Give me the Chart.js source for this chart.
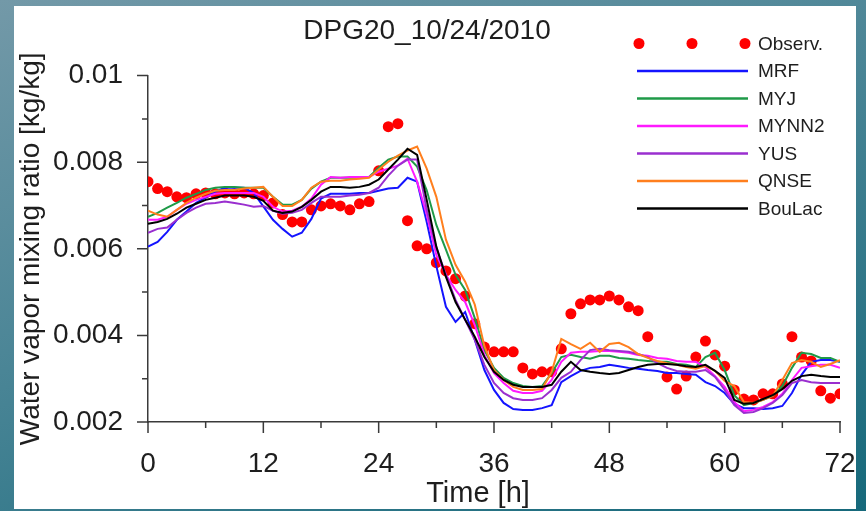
<!DOCTYPE html>
<html>
<head>
<meta charset="utf-8">
<script src="https://cdn.jsdelivr.net/npm/chart.js@4.4.1/dist/chart.umd.min.js"></script>
<style>
html, body { margin: 0; padding: 0; }
body {
    width: 866px; height: 511px; overflow: hidden; position: relative;
    background: linear-gradient(160deg, #7399a8 0%, #4a8596 45%, #16697b 100%);
}
#panel { position: absolute; left: 14px; top: 6px; width: 842px; height: 503px; background: #fff; }
canvas { display: block; }
</style>
</head>
<body>
<div id="panel"><canvas id="chart" width="842" height="503"></canvas></div>
<script>
// hours 0..72
const hours = Array.from({ length: 73 }, (_, i) => i);

const observ = [0.00755, 0.00739, 0.00732, 0.00720, 0.00718, 0.00727, 0.00729, 0.00727, 0.00729, 0.00727,
    0.00729, 0.00727, 0.00723, 0.00706, 0.00679, 0.00662, 0.00662, 0.00690, 0.00699, 0.00704,
    0.00699, 0.00690, 0.00704, 0.00709, 0.00780, 0.00882, 0.00889, 0.00665, 0.00607, 0.00600,
    0.00568, 0.00549, 0.00531, 0.00491, 0.00427, 0.00373, 0.00362, 0.00362, 0.00362, 0.00325,
    0.00311, 0.00316, 0.00316, 0.00369, 0.00450, 0.00473, 0.00482, 0.00482, 0.00491, 0.00482,
    0.00466, 0.00457, 0.00397, null, 0.00304, 0.00276, 0.00306, 0.00350, 0.00387, 0.00355,
    0.00329, 0.00274, 0.00253, 0.00251, 0.00265, 0.00265, 0.00288, 0.00397, 0.00350, 0.00341,
    0.00272, 0.00255, 0.00265];

const mrf = [0.00605, 0.00616, 0.00639, 0.00667, 0.00686, 0.00706, 0.00718, 0.00732, 0.00741, 0.00741,
    0.00741, 0.00729, 0.00698, 0.00667, 0.00646, 0.00628, 0.00637, 0.00669, 0.00716, 0.00727,
    0.00727, 0.00727, 0.00729, 0.00729, 0.00734, 0.00739, 0.00741, 0.00764, 0.00755, 0.00662,
    0.00560, 0.00466, 0.00431, 0.00454, 0.00390, 0.00320, 0.00274, 0.00244, 0.00230, 0.00228,
    0.00228, 0.00232, 0.00239, 0.00292, 0.00306, 0.00318, 0.00325, 0.00327, 0.00332, 0.00329,
    0.00325, 0.00323, 0.00320, 0.00318, 0.00313, 0.00313, 0.00311, 0.00309, 0.00292, 0.00283,
    0.00267, 0.00242, 0.00232, 0.00232, 0.00230, 0.00232, 0.00237, 0.00267, 0.00309, 0.00339,
    0.00343, 0.00343, 0.00339];

const myj = [0.00674, 0.00683, 0.00695, 0.00706, 0.00718, 0.00727, 0.00736, 0.00741, 0.00743, 0.00743,
    0.00741, 0.00741, 0.00741, 0.00720, 0.00702, 0.00702, 0.00713, 0.00739, 0.00755, 0.00764,
    0.00764, 0.00764, 0.00764, 0.00766, 0.00787, 0.00806, 0.00813, 0.00813, 0.00790, 0.00735,
    0.00655, 0.00598, 0.00540, 0.00505, 0.00440, 0.00366, 0.00325, 0.00302, 0.00290, 0.00283,
    0.00281, 0.00283, 0.00313, 0.00350, 0.00355, 0.00350, 0.00346, 0.00353, 0.00353, 0.00348,
    0.00346, 0.00343, 0.00341, 0.00339, 0.00339, 0.00334, 0.00332, 0.00327, 0.00350, 0.00360,
    0.00320, 0.00262, 0.00239, 0.00244, 0.00251, 0.00260, 0.00283, 0.00325, 0.00360, 0.00357,
    0.00348, 0.00348, 0.00339];

const mynn2 = [0.00667, 0.00667, 0.00674, 0.00690, 0.00704, 0.00713, 0.00720, 0.00727, 0.00729, 0.00729,
    0.00729, 0.00729, 0.00720, 0.00697, 0.00686, 0.00688, 0.00697, 0.00716, 0.00748, 0.00766,
    0.00764, 0.00766, 0.00766, 0.00766, 0.00778, 0.00785, 0.00792, 0.00808, 0.00755, 0.00679,
    0.00586, 0.00540, 0.00505, 0.00477, 0.00424, 0.00355, 0.00313, 0.00290, 0.00272, 0.00267,
    0.00267, 0.00272, 0.00297, 0.00339, 0.00360, 0.00362, 0.00362, 0.00364, 0.00364, 0.00362,
    0.00360, 0.00355, 0.00353, 0.00348, 0.00346, 0.00341, 0.00339, 0.00339, 0.00327, 0.00306,
    0.00281, 0.00246, 0.00225, 0.00228, 0.00235, 0.00246, 0.00265, 0.00297, 0.00325, 0.00329,
    0.00332, 0.00332, 0.00325];

const yus = [0.00637, 0.00646, 0.00649, 0.00667, 0.00683, 0.00695, 0.00704, 0.00706, 0.00709, 0.00706,
    0.00702, 0.00697, 0.00699, 0.00688, 0.00681, 0.00683, 0.00690, 0.00706, 0.00720, 0.00720,
    0.00720, 0.00723, 0.00725, 0.00729, 0.00741, 0.00769, 0.00792, 0.00806, 0.00806, 0.00690,
    0.00602, 0.00540, 0.00482, 0.00436, 0.00390, 0.00332, 0.00290, 0.00267, 0.00255, 0.00251,
    0.00251, 0.00255, 0.00274, 0.00302, 0.00316, 0.00343, 0.00366, 0.00369, 0.00366, 0.00364,
    0.00362, 0.00357, 0.00350, 0.00336, 0.00325, 0.00318, 0.00316, 0.00316, 0.00320, 0.00304,
    0.00274, 0.00239, 0.00221, 0.00223, 0.00232, 0.00244, 0.00262, 0.00290, 0.00297, 0.00292,
    0.00290, 0.00290, 0.00290];

const qnse = [0.00688, 0.00679, 0.00674, 0.00690, 0.00706, 0.00718, 0.00727, 0.00734, 0.00736, 0.00736,
    0.00739, 0.00741, 0.00743, 0.00720, 0.00699, 0.00699, 0.00713, 0.00741, 0.00755, 0.00757,
    0.00757, 0.00760, 0.00762, 0.00764, 0.00783, 0.00801, 0.00815, 0.00827, 0.00836, 0.00785,
    0.00720, 0.00621, 0.00563, 0.00524, 0.00471, 0.00375, 0.00320, 0.00297, 0.00281, 0.00274,
    0.00274, 0.00276, 0.00316, 0.00392, 0.00380, 0.00369, 0.00383, 0.00362, 0.00380, 0.00383,
    0.00373, 0.00357, 0.00348, 0.00341, 0.00336, 0.00332, 0.00327, 0.00323, 0.00329, 0.00318,
    0.00295, 0.00283, 0.00246, 0.00244, 0.00251, 0.00260, 0.00297, 0.00336, 0.00343, 0.00339,
    0.00327, 0.00334, 0.00343];

const boulac = [0.00658, 0.00662, 0.00669, 0.00681, 0.00695, 0.00704, 0.00713, 0.00718, 0.00723, 0.00723,
    0.00723, 0.00720, 0.00711, 0.00688, 0.00683, 0.00686, 0.00697, 0.00713, 0.00732, 0.00743,
    0.00743, 0.00741, 0.00743, 0.00748, 0.00760, 0.00783, 0.00806, 0.00831, 0.00817, 0.00713,
    0.00605, 0.00535, 0.00477, 0.00436, 0.00397, 0.00350, 0.00316, 0.00297, 0.00286, 0.00281,
    0.00281, 0.00281, 0.00286, 0.00316, 0.00339, 0.00320, 0.00316, 0.00313, 0.00311, 0.00313,
    0.00320, 0.00327, 0.00332, 0.00334, 0.00334, 0.00332, 0.00329, 0.00327, 0.00332, 0.00318,
    0.00302, 0.00251, 0.00242, 0.00244, 0.00253, 0.00262, 0.00276, 0.00295, 0.00306, 0.00309,
    0.00306, 0.00304, 0.00304];

const seriesNames = ['Observ.', 'MRF', 'MYJ', 'MYNN2', 'YUS', 'QNSE', 'BouLac'];
const seriesValues = [observ, mrf, myj, mynn2, yus, qnse, boulac];
const seriesColors = ['#ff0000', '#1414ff', '#1f9a48', '#ff1aff', '#9a2fcf', '#ff7f1e', '#000000'];
const drawOrder = [10, 6, 5, 4, 3, 2, 1];

const font = 'Liberation Sans, Arial, Helvetica, sans-serif';
const textColor = '#1e1e1e';
const axisColor = '#3a3a3a';

function pts(vals) {
    return hours.map((h, i) => ({ x: h, y: vals[i] }));
}

const datasets = seriesValues.map((vals, i) => {
    if (i === 0) {
        return {
            label: seriesNames[i], data: pts(vals), showLine: false,
            pointRadius: 5.5, pointBackgroundColor: seriesColors[i], pointBorderWidth: 0,
            borderColor: seriesColors[i], order: drawOrder[i]
        };
    }
    return {
        label: seriesNames[i], data: pts(vals), borderColor: seriesColors[i],
        borderWidth: 2, pointRadius: 0, tension: 0, fill: false, order: drawOrder[i]
    };
});

// tick marks (major longer than minor) like in the original plot
const tickMarks = {
    id: 'tickMarks',
    afterDraw(chart) {
        const ctx = chart.ctx, xs = chart.scales.x, ys = chart.scales.y, a = chart.chartArea;
        ctx.save();
        ctx.strokeStyle = axisColor;
        ctx.lineWidth = 1.5;
        ctx.beginPath();
        xs.ticks.forEach(t => {
            const px = xs.getPixelForValue(t.value);
            const len = t.value % 12 === 0 ? 11 : 6;
            ctx.moveTo(px, a.bottom);
            ctx.lineTo(px, a.bottom + len);
        });
        ys.ticks.forEach(t => {
            const py = ys.getPixelForValue(t.value);
            const len = Math.round(t.value * 1000) % 2 === 0 ? 11 : 6;
            ctx.moveTo(a.left, py);
            ctx.lineTo(a.left - len, py);
        });
        ctx.stroke();
        // x axis title sits a bit left of the plot centre in the original
        ctx.fillStyle = textColor;
        ctx.font = '29px ' + font;
        ctx.textAlign = 'center';
        ctx.textBaseline = 'middle';
        ctx.fillText('Time [h]', 464, 488);
        ctx.restore();
    }
};

// legend in the upper right, three dots for the observations
const cornerLegend = {
    id: 'cornerLegend',
    afterDraw(chart) {
        const ctx = chart.ctx;
        const x0 = 623, x1 = 734, tx = 744, y0 = 37.5, dy = 27.5;
        ctx.save();
        ctx.font = '19px ' + font;
        ctx.textBaseline = 'middle';
        ctx.textAlign = 'left';
        chart.data.datasets.forEach((ds, i) => {
            const y = y0 + i * dy;
            if (i === 0) {
                ctx.fillStyle = ds.pointBackgroundColor;
                [625, 678, 731].forEach(cx => {
                    ctx.beginPath();
                    ctx.arc(cx, y, 5.5, 0, Math.PI * 2);
                    ctx.fill();
                });
            } else {
                ctx.strokeStyle = ds.borderColor;
                ctx.lineWidth = 2.5;
                ctx.beginPath();
                ctx.moveTo(x0, y);
                ctx.lineTo(x1, y);
                ctx.stroke();
            }
            ctx.fillStyle = textColor;
            ctx.fillText(ds.label, tx, y + 1);
        });
        ctx.restore();
    }
};

new Chart(document.getElementById('chart'), {
    type: 'line',
    data: { datasets: datasets },
    options: {
        responsive: false,
        animation: false,
        layout: { padding: { left: 0, right: 16, top: 0, bottom: 0 } },
        plugins: {
            legend: { display: false },
            tooltip: { enabled: false },
            title: {
                display: true, text: 'DPG20_10/24/2010', color: textColor,
                font: { family: font, size: 28, weight: 'normal' },
                padding: { top: 8, bottom: 28 }
            }
        },
        scales: {
            x: {
                type: 'linear', min: 0, max: 72,
                grid: { display: false },
                border: { display: true, color: axisColor, width: 1.5 },
                ticks: {
                    stepSize: 6, autoSkip: false, maxRotation: 0, padding: 17,
                    color: textColor, font: { family: font, size: 28 },
                    callback: v => (v % 12 === 0 ? String(v) : '')
                },
                title: { display: false },
                afterFit: s => { s.height = 87; s.paddingLeft = 0; s.paddingRight = 0; }
            },
            y: {
                type: 'linear', min: 0.002, max: 0.01,
                grid: { display: false },
                border: { display: true, color: axisColor, width: 1.5 },
                ticks: {
                    stepSize: 0.001, autoSkip: false, padding: 17,
                    color: textColor, font: { family: font, size: 28 },
                    callback: v => (Math.round(v * 1000) % 2 === 0 ? String(Number(v.toFixed(3))) : '')
                },
                title: {
                    display: true, text: 'Water vapor mixing ratio [kg/kg]', color: textColor,
                    font: { family: font, size: 28 }, padding: 0
                },
                afterFit: s => { s.width = 134; }
            }
        }
    },
    plugins: [tickMarks, cornerLegend]
});
</script>
</body>
</html>
